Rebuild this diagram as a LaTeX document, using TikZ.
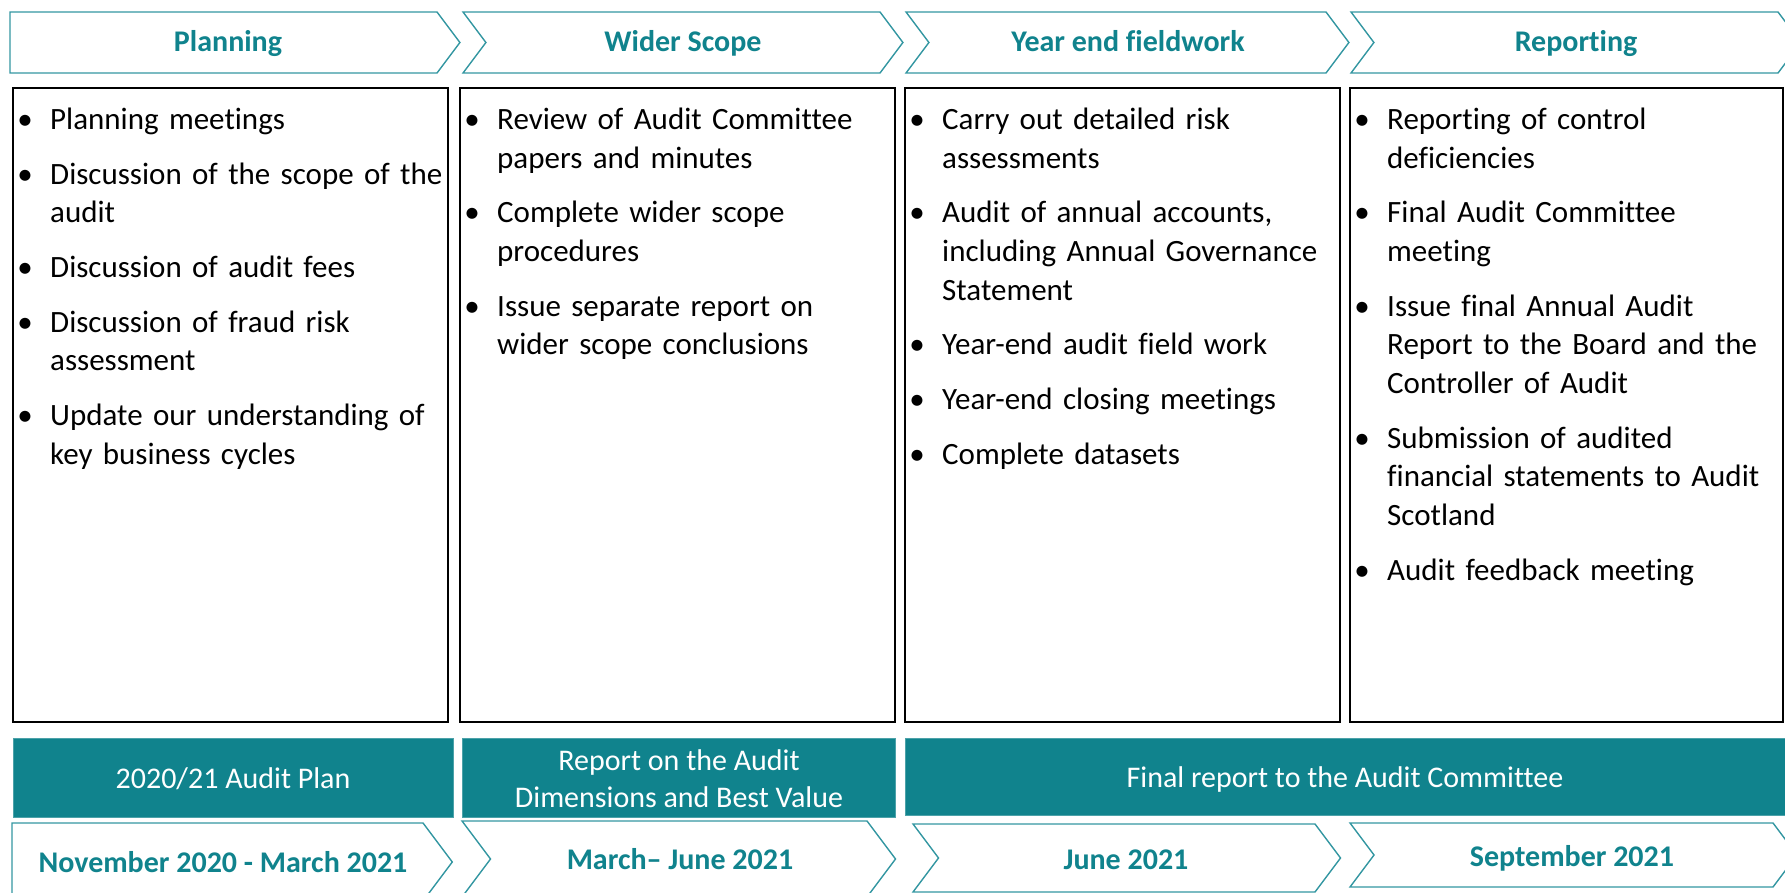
\documentclass[tikz,border=0pt]{standalone}
\usepackage{fontspec}
\setmainfont{Carlito}[Ligatures=NoCommon]
\usepackage{enumitem}
\definecolor{auditteal}{HTML}{10838D}
\definecolor{chevline}{HTML}{3497A2}

\newlist{steps}{itemize}{1}
\setlist[steps]{label=\textbullet, leftmargin=37pt, labelsep=17.5pt,
  itemsep=15.9pt, parsep=0pt, topsep=0pt, partopsep=0pt}

% chevron outline: left, right, top, bottom, notch (0 = flat tail)
\newcommand{\chevron}[5]{%
  \draw[stagebox] (#1,#3) -- (#2,#3) -- ({#2+0.375*(#4-#3)},{0.5*(#3+#4)})
    -- (#2,#4) -- (#1,#4) -- ({#1+#5*0.375*(#4-#3)},{0.5*(#3+#4)}) -- cycle;}

\begin{document}
\begin{tikzpicture}[x=1pt,y=-1pt,line join=miter]
	\tikzset{
		stagebox/.style={draw=chevline, line width=1.4pt, fill=white},
		headtext/.style={font=\fontsize{30}{36}\selectfont\bfseries, text=auditteal, anchor=base, inner sep=0},
		taskbox/.style={draw=black, line width=1.8pt},
		datebar/.style={fill=auditteal, draw=auditteal!75, line width=1pt},
		barlabel/.style={font=\fontsize{30}{36.6}\selectfont, text=white, align=center, anchor=base, inner sep=0},
		tasklist/.style={anchor=base west, text width=470pt, inner sep=0, font=\fontsize{31}{38.7}\selectfont}
	}
	\useasboundingbox (0,0) rectangle (1785,893);
	\clip (0,0) rectangle (1785,893);
	% stages along the top
	\chevron{10}{437}{12}{73}{0}
	\chevron{463}{880}{12}{73}{1}
	\chevron{906}{1326}{12}{73}{1}
	\chevron{1351}{1778}{12}{73}{1}
	\node[headtext] (plan) at (228,52) {Planning};
	\node[headtext] (scope) at (683,52) {Wider Scope};
	\node[headtext] (field) at (1128,52) {Year end fieldwork};
	\node[headtext] (report) at (1576,52) {Reporting};
	% task boxes
	\foreach \l/\r in {13/448, 460/895, 905/1340, 1350/1783}
		\draw[taskbox] (\l,88) rectangle (\r,722);
	\node[tasklist] (planlist) at (13,91) {\begin{steps}
		\item Planning meetings
		\item Discussion of the scope of the\\audit
		\item Discussion of audit fees
		\item Discussion of fraud risk\\assessment
		\item Update our understanding of\\key business cycles
	\end{steps}};
	\node[tasklist] (scopelist) at (460,91) {\begin{steps}
		\item Review of Audit Committee\\papers and minutes
		\item Complete wider scope\\procedures
		\item Issue separate report on\\wider scope conclusions
	\end{steps}};
	\node[tasklist] (fieldlist) at (905,91) {\begin{steps}
		\item Carry out detailed risk\\assessments
		\item Audit of annual accounts,\\including Annual Governance\\Statement
		\item Year-end audit field work
		\item Year-end closing meetings
		\item Complete datasets
	\end{steps}};
	\node[tasklist] (reportlist) at (1350,91) {\begin{steps}
		\item Reporting of control\\deficiencies
		\item Final Audit Committee\\meeting
		\item Issue final Annual Audit\\Report to the Board and the\\Controller of Audit
		\item Submission of audited\\financial statements to Audit\\Scotland
		\item Audit feedback meeting
	\end{steps}};
	% outputs
	\draw[datebar] (13,738) rectangle (453,817);
	\draw[datebar] (462,738) rectangle (895,817);
	\draw[datebar] (905,738) rectangle (1790,815);
	\node[barlabel] (auditplan) at (233,788) {2020/21 Audit Plan};
	\node[barlabel] (dimensions) at (679,807) {Report on the Audit\\Dimensions and Best Value};
	\node[barlabel] (finalreport) at (1345,787) {Final report to the Audit Committee};
	% timing along the bottom
	\chevron{12}{423}{823}{901}{0}
	\chevron{462}{867}{821}{897}{1}
	\chevron{913}{1315}{824}{892}{1}
	\chevron{1350}{1773}{823}{887}{1}
	\node[headtext] (nov) at (223,872) {November 2020 - March 2021};
	\node[headtext] (march) at (680,869) {March– June 2021};
	\node[headtext] (june) at (1126,869) {June 2021};
	\node[headtext] (sept) at (1572,866) {September 2021};
\end{tikzpicture}
\end{document}
